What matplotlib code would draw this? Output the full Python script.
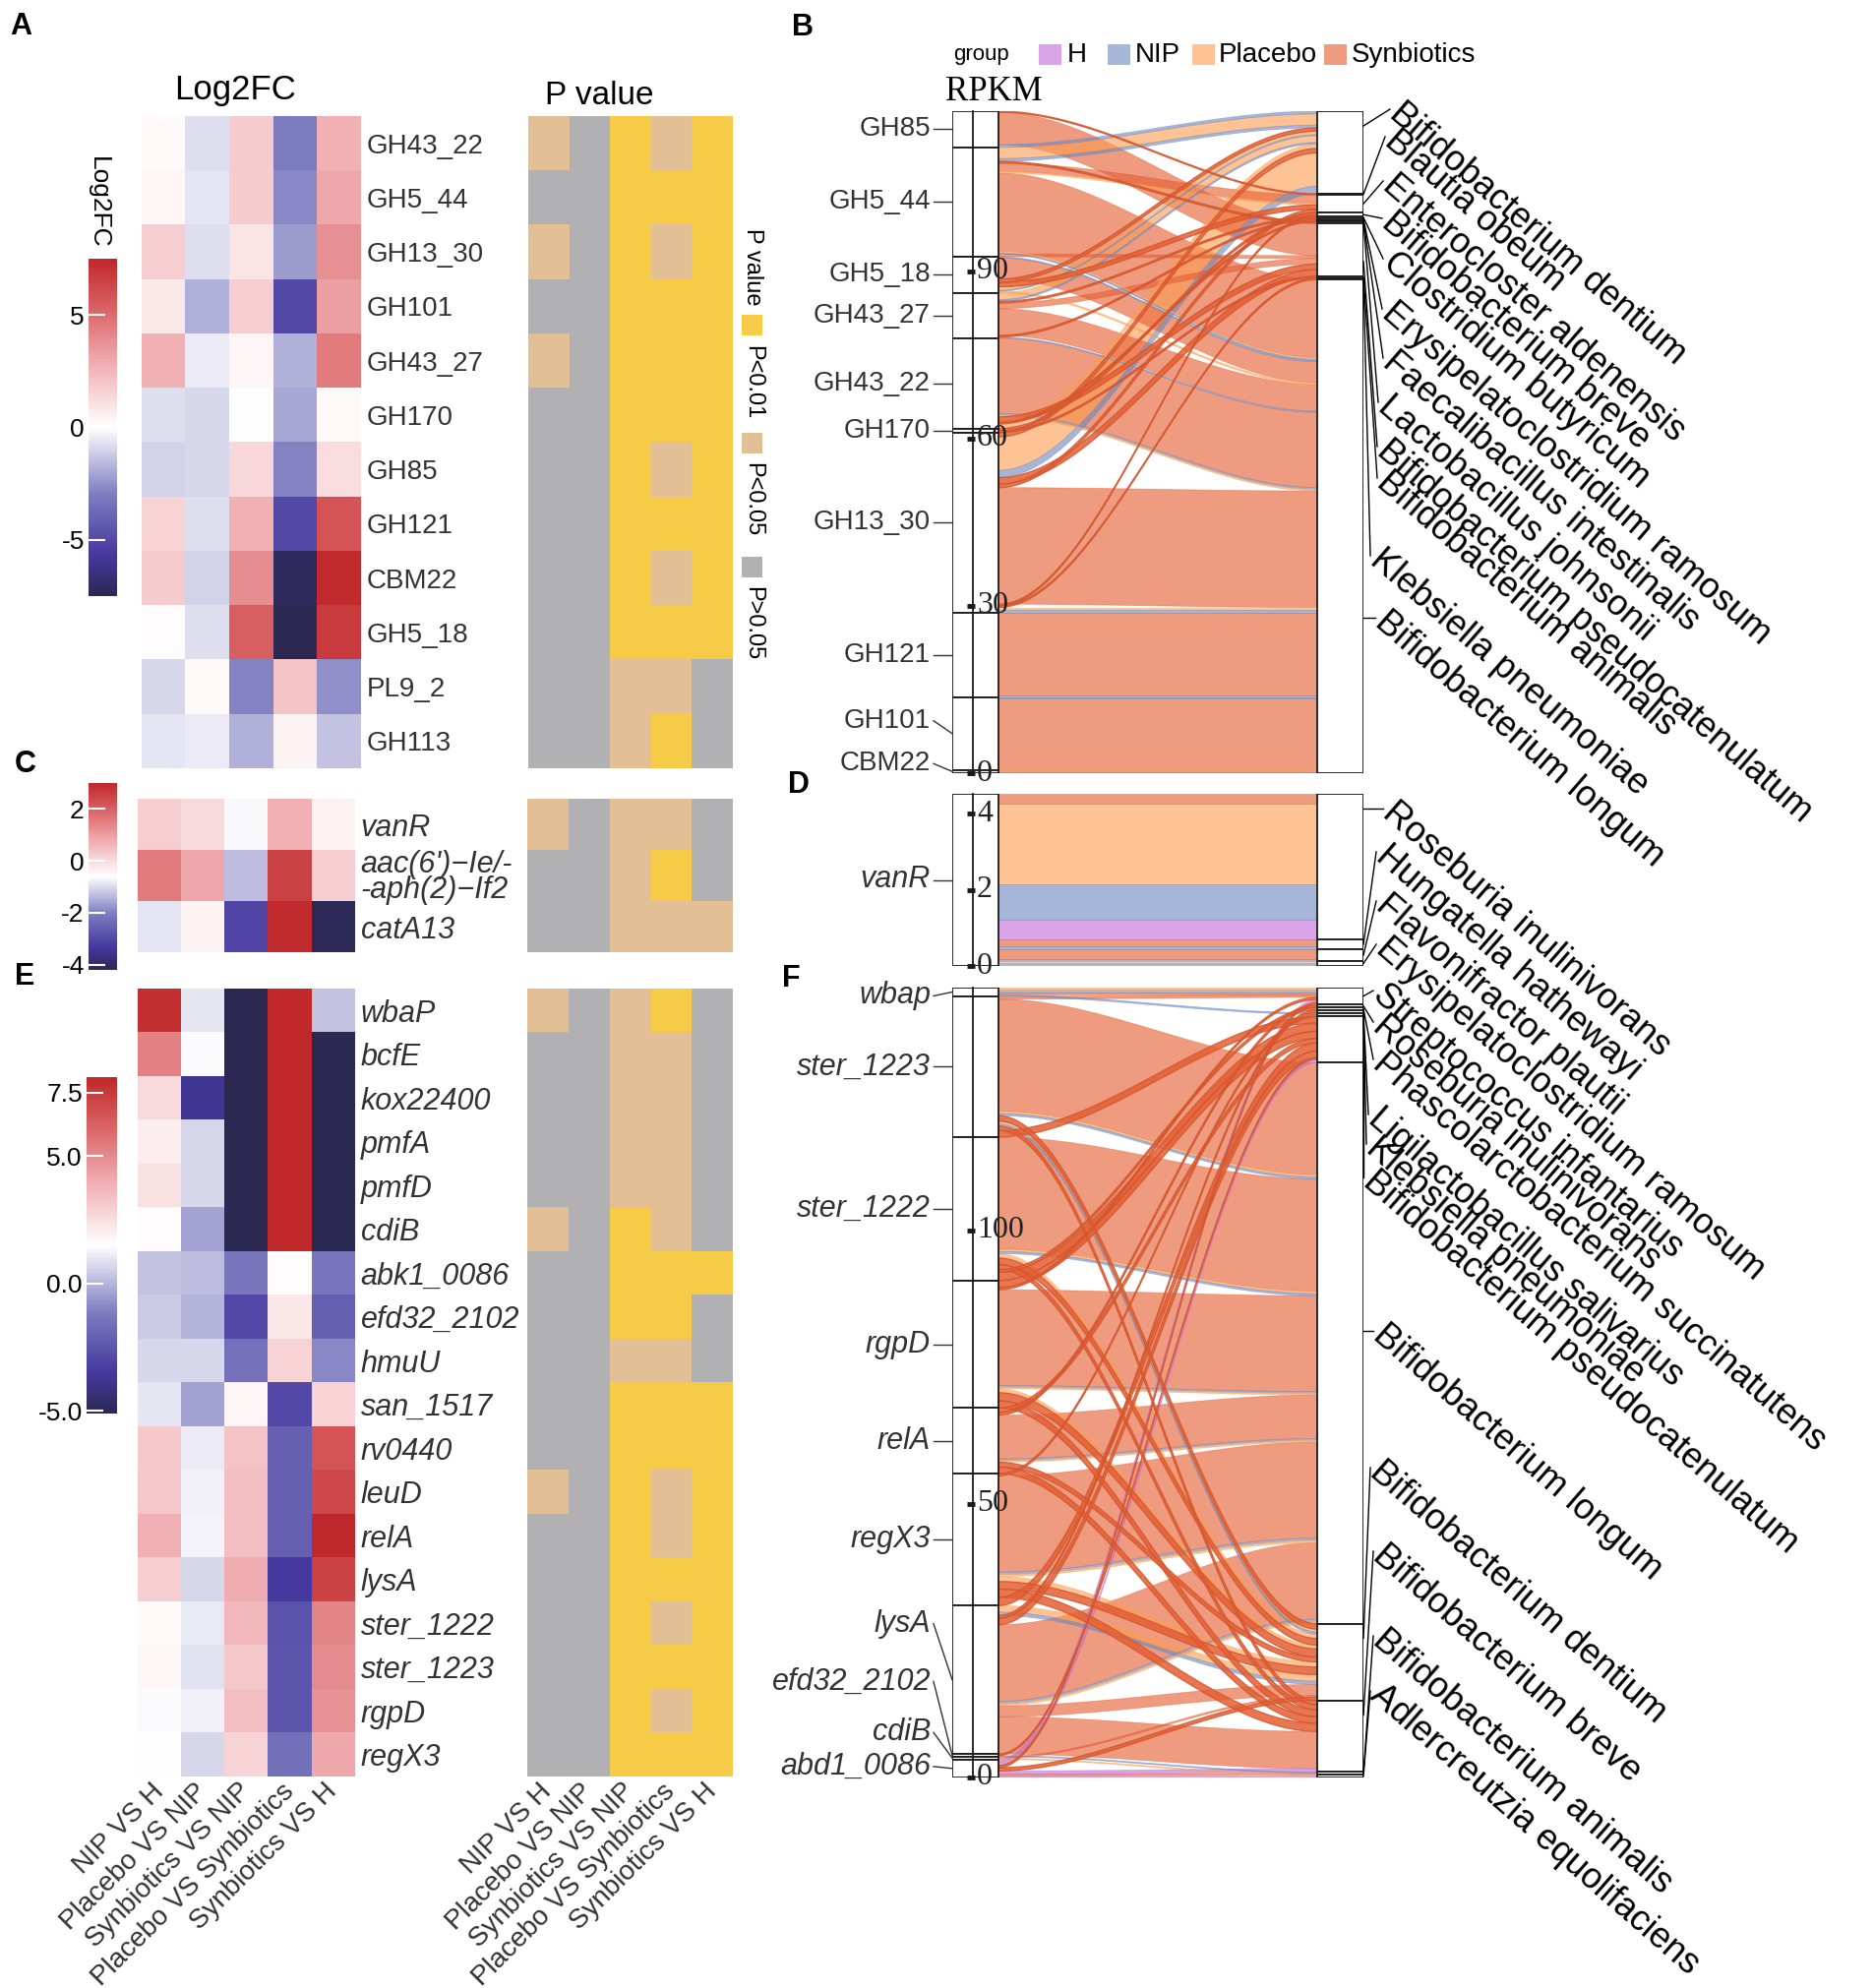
import numpy as np
import matplotlib
matplotlib.use('Agg')
import matplotlib.pyplot as plt
import matplotlib.cm as cm
from matplotlib.colors import LinearSegmentedColormap, ListedColormap, Normalize, to_rgb
from matplotlib.patches import Rectangle, Polygon
from matplotlib.lines import Line2D

plt.rcParams['font.family'] = ['Liberation Sans', 'DejaVu Sans']
plt.rcParams['axes.unicode_minus'] = False

# ---------------------------------------------------------------- data
comparisons = ['NIP VS H', 'Placebo VS NIP', 'Synbiotics VS NIP',
               'Placebo VS Synbiotics', 'Synbiotics VS H']
p_levels = ['P<0.01', 'P<0.05', 'P>0.05']          # codes 0, 1, 2

cazy_genes = ['GH43_22', 'GH5_44', 'GH13_30', 'GH101', 'GH43_27', 'GH170',
              'GH85', 'GH121', 'CBM22', 'GH5_18', 'PL9_2', 'GH113']
cazy_log2fc = [[0.15, -0.75, 1.8, -3.0, 2.7],
               [0.3, -0.6, 1.8, -2.7, 3.0],
               [1.65, -0.75, 0.9, -2.25, 3.75],
               [0.75, -1.8, 1.65, -5.0, 3.3],
               [2.7, -0.45, 0.3, -1.8, 4.5],
               [-0.75, -0.9, 0.0, -2.0, 0.2],
               [-1.05, -0.9, 1.35, -2.85, 1.2],
               [1.5, -0.75, 2.7, -5.0, 5.85],
               [1.8, -1.05, 3.9, -7.2, 7.35],
               [0.1, -0.75, 5.4, -7.5, 6.75],
               [-0.9, 0.15, -2.85, 2.1, -2.55],
               [-0.6, -0.45, -1.8, 0.45, -1.35]]
cazy_p = [[1, 2, 0, 1, 0], [2, 2, 0, 0, 0], [1, 2, 0, 1, 0], [2, 2, 0, 0, 0],
          [1, 2, 0, 0, 0], [2, 2, 0, 0, 0], [2, 2, 0, 1, 0], [2, 2, 0, 0, 0],
          [2, 2, 0, 1, 0], [2, 2, 0, 0, 0], [2, 2, 1, 1, 2], [2, 2, 1, 0, 2]]

arg_genes = ['vanR', "aac(6')\u2212Ie/-\n-aph(2)\u2212If2", 'catA13']
arg_log2fc = [[0.2, 0.0, -0.67, 0.7, -0.38],
              [1.56, 0.84, -1.32, 2.5, 0.19],
              [-0.9, -0.38, -3.05, 2.93, -4.13]]
arg_p = [[1, 2, 1, 1, 2], [2, 2, 1, 0, 2], [2, 2, 1, 1, 1]]

vf_genes = ['wbaP', 'bcfE', 'kox22400', 'pmfA', 'pmfD', 'cdiB', 'abk1_0086',
            'efd32_2102', 'hmuU', 'san_1517', 'rv0440', 'leuD', 'relA', 'lysA',
            'ster_1222', 'ster_1223', 'rgpD', 'regX3']
vf_log2fc = [[7.8, 1.0, -5.1, 8.1, 0.3],
             [5.3, 1.4, -5.1, 8.1, -5.1],
             [2.6, -3.8, -5.1, 8.1, -5.1],
             [2.0, 0.7, -5.1, 8.1, -5.1],
             [2.4, 0.7, -5.1, 8.1, -5.1],
             [1.6, -0.35, -5.1, 8.1, -5.1],
             [0.3, 0.2, -1.3, 1.6, -1.3],
             [0.45, 0.0, -2.9, 2.2, -2.1],
             [0.7, 0.7, -1.5, 2.8, -0.9],
             [1.0, -0.4, 1.8, -2.9, 2.8],
             [3.1, 1.1, 3.35, -2.1, 6.65],
             [3.2, 1.2, 3.5, -2.1, 7.0],
             [3.9, 1.25, 3.5, -2.1, 8.0],
             [2.95, 0.7, 4.0, -3.5, 7.2],
             [1.65, 1.05, 3.7, -2.6, 5.2],
             [1.75, 0.9, 3.2, -2.5, 5.0],
             [1.4, 1.2, 3.5, -2.5, 4.8],
             [1.5, 0.7, 2.8, -1.55, 4.1]]
vf_p = [[1, 2, 1, 0, 2], [2, 2, 1, 1, 2], [2, 2, 1, 1, 2], [2, 2, 1, 1, 2],
        [2, 2, 1, 1, 2], [1, 2, 0, 1, 2], [2, 2, 0, 0, 0], [2, 2, 0, 0, 2],
        [2, 2, 1, 1, 2], [2, 2, 0, 0, 0], [2, 2, 0, 0, 0], [1, 2, 0, 1, 0],
        [2, 2, 0, 1, 0], [2, 2, 0, 0, 0], [2, 2, 0, 1, 0], [2, 2, 0, 0, 0],
        [2, 2, 0, 1, 0], [2, 2, 0, 0, 0]]

groups = ['H', 'NIP', 'Placebo', 'Synbiotics']

# Panel B: CAZy gene -> species flows (gene, species, group, RPKM)
B_genes = ['GH85', 'GH5_44', 'GH5_18', 'GH43_27', 'GH43_22', 'GH170',
           'GH13_30', 'GH121', 'GH101', 'CBM22']
B_species = ['Bifidobacterium dentium', 'Blautia obeum', 'Enterocloster aldenensis',
             'Bifidobacterium breve', 'Clostridium butyricum',
             'Erysipelatoclostridium ramosum', 'Faecalibacillus intestinalis',
             'Lactobacillus johnsonii', 'Bifidobacterium pseudocatenulatum',
             'Bifidobacterium animalis', 'Klebsiella pneumoniae',
             'Bifidobacterium longum']
B_flows = [
    ('GH85', 'Blautia obeum', 'Synbiotics', 0.2),
    ('GH85', 'Bifidobacterium pseudocatenulatum', 'Synbiotics', 5.8),
    ('GH85', 'Bifidobacterium dentium', 'NIP', 0.5),
    ('GH5_44', 'Bifidobacterium dentium', 'Placebo', 2.0),
    ('GH5_44', 'Bifidobacterium dentium', 'NIP', 0.5),
    ('GH5_44', 'Lactobacillus johnsonii', 'Synbiotics', 0.3),
    ('GH5_44', 'Enterocloster aldenensis', 'Synbiotics', 1.5),
    ('GH5_44', 'Enterocloster aldenensis', 'Placebo', 0.3),
    ('GH5_44', 'Bifidobacterium longum', 'Synbiotics', 14.0),
    ('GH5_44', 'Bifidobacterium longum', 'Placebo', 0.3),
    ('GH5_44', 'Bifidobacterium longum', 'NIP', 0.2),
    ('GH5_44', 'Bifidobacterium pseudocatenulatum', 'Synbiotics', 0.5),
    ('GH5_18', 'Bifidobacterium longum', 'NIP', 0.2),
    ('GH5_18', 'Bifidobacterium longum', 'Synbiotics', 3.8),
    ('GH5_18', 'Bifidobacterium dentium', 'Synbiotics', 0.6),
    ('GH5_18', 'Enterocloster aldenensis', 'Synbiotics', 0.8),
    ('GH5_18', 'Bifidobacterium dentium', 'Placebo', 0.6),
    ('GH5_18', 'Bifidobacterium dentium', 'NIP', 0.2),
    ('GH5_18', 'Bifidobacterium longum', 'Placebo', 0.3),
    ('GH43_27', 'Bifidobacterium dentium', 'Placebo', 1.2),
    ('GH43_27', 'Bifidobacterium dentium', 'NIP', 0.3),
    ('GH43_27', 'Clostridium butyricum', 'Synbiotics', 0.3),
    ('GH43_27', 'Bifidobacterium pseudocatenulatum', 'Synbiotics', 1.0),
    ('GH43_27', 'Bifidobacterium longum', 'Synbiotics', 4.8),
    ('GH43_27', 'Erysipelatoclostridium ramosum', 'Synbiotics', 0.3),
    ('GH43_27', 'Bifidobacterium longum', 'NIP', 0.2),
    ('GH43_22', 'Bifidobacterium longum', 'Synbiotics', 13.5),
    ('GH43_22', 'Bifidobacterium longum', 'NIP', 0.3),
    ('GH43_22', 'Bifidobacterium longum', 'Placebo', 0.3),
    ('GH43_22', 'Bifidobacterium pseudocatenulatum', 'Synbiotics', 1.0),
    ('GH43_22', 'Faecalibacillus intestinalis', 'Synbiotics', 0.3),
    ('GH43_22', 'Bifidobacterium dentium', 'Placebo', 0.8),
    ('GH170', 'Bifidobacterium breve', 'Synbiotics', 0.4),
    ('GH170', 'Bifidobacterium animalis', 'Synbiotics', 0.3),
    ('GH13_30', 'Bifidobacterium dentium', 'Synbiotics', 0.8),
    ('GH13_30', 'Bifidobacterium dentium', 'Placebo', 6.0),
    ('GH13_30', 'Bifidobacterium dentium', 'NIP', 1.3),
    ('GH13_30', 'Bifidobacterium pseudocatenulatum', 'Synbiotics', 1.2),
    ('GH13_30', 'Enterocloster aldenensis', 'Synbiotics', 0.6),
    ('GH13_30', 'Bifidobacterium longum', 'Synbiotics', 20.9),
    ('GH13_30', 'Bifidobacterium breve', 'Synbiotics', 0.3),
    ('GH13_30', 'Klebsiella pneumoniae', 'Synbiotics', 0.3),
    ('GH13_30', 'Bifidobacterium longum', 'Placebo', 0.5),
    ('GH13_30', 'Bifidobacterium longum', 'NIP', 0.5),
    ('GH121', 'Bifidobacterium longum', 'Synbiotics', 14.8),
    ('GH121', 'Bifidobacterium longum', 'NIP', 0.3),
    ('GH101', 'Bifidobacterium longum', 'NIP', 0.15),
    ('GH101', 'Bifidobacterium longum', 'Synbiotics', 12.7),
    ('GH101', 'Bifidobacterium longum', 'Placebo', 0.15),
    ('CBM22', 'Bifidobacterium longum', 'Synbiotics', 0.4),
    ('CBM22', 'Bifidobacterium longum', 'Placebo', 0.1),
    ('CBM22', 'Bifidobacterium longum', 'NIP', 0.1),
]

# Panel D: ARG vanR -> species
D_genes = ['vanR']
D_species = ['Roseburia inulinivorans', 'Hungatella hathewayi',
             'Flavonifractor plautii', 'Erysipelatoclostridium ramosum']
D_flows = [
    ('vanR', 'Roseburia inulinivorans', 'Synbiotics', 0.27),
    ('vanR', 'Roseburia inulinivorans', 'Placebo', 2.10),
    ('vanR', 'Roseburia inulinivorans', 'NIP', 0.95),
    ('vanR', 'Roseburia inulinivorans', 'H', 0.51),
    ('vanR', 'Hungatella hathewayi', 'Synbiotics', 0.19),
    ('vanR', 'Hungatella hathewayi', 'NIP', 0.07),
    ('vanR', 'Flavonifractor plautii', 'Synbiotics', 0.26),
    ('vanR', 'Flavonifractor plautii', 'NIP', 0.05),
    ('vanR', 'Erysipelatoclostridium ramosum', 'Placebo', 0.05),
    ('vanR', 'Erysipelatoclostridium ramosum', 'NIP', 0.08),
]

# Panel F: VF gene -> species
F_genes = ['wbap', 'ster_1223', 'ster_1222', 'rgpD', 'relA', 'regX3', 'lysA',
           'efd32_2102', 'cdiB', 'abd1_0086']
F_species = ['Streptococcus infantarius', 'Roseburia inulinivorans',
             'Phascolarctobacterium succinatutens', 'Ligilactobacillus salivarius',
             'Klebsiella pneumoniae', 'Bifidobacterium pseudocatenulatum',
             'Bifidobacterium longum', 'Bifidobacterium dentium',
             'Bifidobacterium breve', 'Bifidobacterium animalis',
             'Adlercreutzia equolifaciens']
F_flows = [
    ('wbap', 'Streptococcus infantarius', 'Placebo', 0.3),
    ('wbap', 'Streptococcus infantarius', 'NIP', 0.6),
    ('wbap', 'Streptococcus infantarius', 'Synbiotics', 0.4),
    ('wbap', 'Klebsiella pneumoniae', 'NIP', 0.3),
    ('ster_1223', 'Streptococcus infantarius', 'Synbiotics', 0.5),
    ('ster_1223', 'Bifidobacterium longum', 'Synbiotics', 20.5),
    ('ster_1223', 'Bifidobacterium longum', 'Placebo', 0.4),
    ('ster_1223', 'Bifidobacterium longum', 'NIP', 0.4),
    ('ster_1223', 'Bifidobacterium dentium', 'Synbiotics', 1.0),
    ('ster_1223', 'Bifidobacterium dentium', 'Placebo', 0.5),
    ('ster_1223', 'Bifidobacterium dentium', 'NIP', 0.4),
    ('ster_1223', 'Bifidobacterium breve', 'Synbiotics', 0.8),
    ('ster_1223', 'Bifidobacterium pseudocatenulatum', 'Synbiotics', 1.2),
    ('ster_1222', 'Bifidobacterium longum', 'Synbiotics', 20.5),
    ('ster_1222', 'Bifidobacterium longum', 'Placebo', 0.4),
    ('ster_1222', 'Bifidobacterium longum', 'NIP', 0.4),
    ('ster_1222', 'Bifidobacterium dentium', 'Placebo', 0.8),
    ('ster_1222', 'Bifidobacterium dentium', 'Synbiotics', 1.2),
    ('ster_1222', 'Bifidobacterium breve', 'Synbiotics', 0.9),
    ('ster_1222', 'Phascolarctobacterium succinatutens', 'Synbiotics', 0.5),
    ('ster_1222', 'Bifidobacterium pseudocatenulatum', 'Synbiotics', 1.5),
    ('rgpD', 'Bifidobacterium pseudocatenulatum', 'Synbiotics', 1.3),
    ('rgpD', 'Streptococcus infantarius', 'Synbiotics', 0.4),
    ('rgpD', 'Bifidobacterium longum', 'Synbiotics', 17.5),
    ('rgpD', 'Bifidobacterium longum', 'NIP', 0.3),
    ('rgpD', 'Bifidobacterium longum', 'Placebo', 0.3),
    ('rgpD', 'Bifidobacterium dentium', 'Placebo', 0.7),
    ('rgpD', 'Bifidobacterium dentium', 'Synbiotics', 1.5),
    ('rgpD', 'Bifidobacterium breve', 'Synbiotics', 1.3),
    ('relA', 'Bifidobacterium pseudocatenulatum', 'Synbiotics', 0.8),
    ('relA', 'Roseburia inulinivorans', 'Synbiotics', 0.5),
    ('relA', 'Bifidobacterium longum', 'Synbiotics', 8.0),
    ('relA', 'Bifidobacterium longum', 'NIP', 0.3),
    ('relA', 'Bifidobacterium longum', 'Placebo', 0.3),
    ('relA', 'Bifidobacterium dentium', 'Synbiotics', 0.9),
    ('relA', 'Bifidobacterium breve', 'Synbiotics', 1.2),
    ('regX3', 'Klebsiella pneumoniae', 'Synbiotics', 0.4),
    ('regX3', 'Bifidobacterium longum', 'Synbiotics', 17.6),
    ('regX3', 'Bifidobacterium longum', 'NIP', 0.4),
    ('regX3', 'Bifidobacterium longum', 'Placebo', 0.4),
    ('regX3', 'Bifidobacterium dentium', 'Placebo', 0.9),
    ('regX3', 'Bifidobacterium dentium', 'Synbiotics', 1.4),
    ('regX3', 'Bifidobacterium breve', 'Synbiotics', 1.5),
    ('regX3', 'Bifidobacterium pseudocatenulatum', 'Synbiotics', 1.5),
    ('lysA', 'Bifidobacterium dentium', 'Placebo', 1.2),
    ('lysA', 'Bifidobacterium dentium', 'NIP', 0.6),
    ('lysA', 'Ligilactobacillus salivarius', 'Synbiotics', 0.5),
    ('lysA', 'Bifidobacterium pseudocatenulatum', 'Synbiotics', 1.2),
    ('lysA', 'Bifidobacterium longum', 'Synbiotics', 14.0),
    ('lysA', 'Bifidobacterium longum', 'NIP', 0.4),
    ('lysA', 'Bifidobacterium longum', 'Placebo', 0.4),
    ('lysA', 'Bifidobacterium dentium', 'Synbiotics', 2.0),
    ('lysA', 'Bifidobacterium breve', 'Synbiotics', 6.8),
    ('efd32_2102', 'Bifidobacterium pseudocatenulatum', 'Synbiotics', 0.3),
    ('efd32_2102', 'Bifidobacterium animalis', 'NIP', 0.2),
    ('cdiB', 'Bifidobacterium dentium', 'Synbiotics', 0.3),
    ('cdiB', 'Adlercreutzia equolifaciens', 'Placebo', 0.2),
    ('abd1_0086', 'Streptococcus infantarius', 'H', 0.5),
    ('abd1_0086', 'Bifidobacterium pseudocatenulatum', 'H', 0.6),
    ('abd1_0086', 'Streptococcus infantarius', 'Synbiotics', 0.4),
    ('abd1_0086', 'Bifidobacterium dentium', 'Synbiotics', 0.6),
    ('abd1_0086', 'Bifidobacterium breve', 'H', 0.6),
    ('abd1_0086', 'Bifidobacterium animalis', 'Synbiotics', 0.3),
    ('abd1_0086', 'Adlercreutzia equolifaciens', 'H', 0.3),
]

B_ticks = [0, 30, 60, 90]
D_ticks = [0, 2, 4]
F_ticks = [0, 50, 100]

# ---------------------------------------------------------------- styles
W, H = 1904, 2021
fig = plt.figure(figsize=(W / 100, H / 100), dpi=100)

def fx(x):
    return x / W

def fy(y):
    return 1 - y / H

def add_ax(x0, y0, x1, y1):
    return fig.add_axes([x0 / W, 1 - y1 / H, (x1 - x0) / W, (y1 - y0) / H])

heat_cmap = LinearSegmentedColormap.from_list(
    'lfc', [(0.0, '#2B2852'), (0.12, '#45389E'), (0.3, '#7E7CC0'),
            (0.5, '#FFFFFF'), (0.7, '#EFA9AD'), (0.85, '#DA6467'),
            (1.0, '#C0282A')])
p_colors = ['#F5CB47', '#E3BF95', '#B1B0B2']
p_cmap = ListedColormap(p_colors)
grp_base = {'H': '#C06BD9', 'NIP': '#6E89C1', 'Placebo': '#FC9E52',
            'Synbiotics': '#E55E32'}
FLOW_ALPHA = 0.62
CROSS_ALPHA = 0.85
TXT = '#333333'


def pastel(c):
    r = np.array(to_rgb(c))
    return tuple(FLOW_ALPHA * r + (1 - FLOW_ALPHA) * 1.0)


def heatmap(box, values, norm, rows, italic, fs, xlabels):
    ax = add_ax(*box)
    ax.imshow(np.array(values), cmap=heat_cmap, norm=norm, aspect='auto',
              interpolation='nearest')
    ax.set_yticks(range(len(rows)))
    ax.set_yticklabels(rows, fontsize=fs, color=TXT,
                       style='italic' if italic else 'normal', linespacing=0.85)
    ax.yaxis.tick_right()
    ax.tick_params(axis='y', length=0, pad=4)
    if xlabels:
        ax.set_xticks(range(len(comparisons)))
        ax.set_xticklabels(comparisons, rotation=45, ha='right', va='center',
                           rotation_mode='anchor', fontsize=20, color=TXT)
        ax.tick_params(axis='x', length=0, pad=8)
    else:
        ax.set_xticks([])
    for s in ax.spines.values():
        s.set_visible(False)
    return ax


def pheat(box, values, xlabels):
    ax = add_ax(*box)
    ax.imshow(np.array(values), cmap=p_cmap, vmin=-0.5, vmax=2.5, aspect='auto',
              interpolation='nearest')
    ax.set_yticks([])
    if xlabels:
        ax.set_xticks(range(len(comparisons)))
        ax.set_xticklabels(comparisons, rotation=45, ha='right', va='center',
                           rotation_mode='anchor', fontsize=20, color=TXT)
        ax.tick_params(axis='x', length=0, pad=8)
    else:
        ax.set_xticks([])
    for s in ax.spines.values():
        s.set_visible(False)


def colorbar(box, norm, ticks, labels):
    cax = add_ax(*box)
    cb = fig.colorbar(cm.ScalarMappable(norm=norm, cmap=heat_cmap), cax=cax,
                      ticklocation='left')
    cb.outline.set_visible(False)
    cb.set_ticks(ticks)
    cb.set_ticklabels(labels)
    cax.tick_params(axis='y', direction='in', color='white', length=12,
                    width=1.5, labelsize=19, pad=3, labelcolor='black')


# ---------------------------------------------------------------- heatmaps
normA = Normalize(-7.5, 7.5)
normC = Normalize(-4.2, 3.0)
normE = Normalize(-5.1, 8.1)

heatmap((144, 118, 367, 781), cazy_log2fc, normA, cazy_genes, False, 20, False)
pheat((537, 118, 745, 781), cazy_p, False)
colorbar((90, 263, 119, 606), normA, [-5, 0, 5], ['-5', '0', '5'])
fig.text(fx(100), fy(206), 'Log2FC', rotation=-90, ha='center', va='center', fontsize=19)
fig.text(fx(239), fy(92), 'Log2FC', ha='center', va='center', fontsize=25)
fig.text(fx(609), fy(97), 'P value', ha='center', va='center', fontsize=24)

# P value legend
fig.text(fx(765), fy(271), 'P value', rotation=-90, ha='center', va='center', fontsize=17)
for lvl, (y0, ylab) in enumerate([(320, 389), (440, 508), (566, 634)]):
    fig.add_artist(Rectangle((fx(754), fy(y0 + 21)), 21 / W, 21 / H,
                             transform=fig.transFigure, facecolor=p_colors[lvl],
                             edgecolor='none'))
    fig.text(fx(765), fy(ylab), p_levels[lvl], rotation=-90, ha='center',
             va='center', fontsize=17)

heatmap((140, 812, 361, 968), arg_log2fc, normC, arg_genes, True, 22, False)
pheat((536, 812, 745, 968), arg_p, False)
colorbar((90, 796, 119, 986), normC, [-4, -2, 0, 2], ['-4', '-2', '0', '2'])

heatmap((140, 1005, 361, 1806), vf_log2fc, normE, vf_genes, True, 22, True)
pheat((536, 1005, 745, 1806), vf_p, True)
colorbar((88, 1095, 119, 1437), normE, [-5, 0, 5, 7.5], ['-5.0', '0.0', '5.0', '7.5'])

# ---------------------------------------------------------------- alluvial
XL0, XL1, XR0, XR1 = 968, 1015, 1339, 1386


def alluvial(top_px, bot_px, genes, species, flows, ticks, gene_dy, italic,
             gene_fs, sp_anchor):
    ax = add_ax(XL0, top_px, XR1, bot_px)
    T = float(sum(f[3] for f in flows))
    ax.set_xlim(XL0, XR1)
    ax.set_ylim(0, T)
    ax.axis('off')
    n = len(flows)
    left = [None] * n
    gspan = []
    y = T
    for g in genes:
        y0 = y
        for k, f in enumerate(flows):
            if f[0] == g:
                left[k] = (y, y - f[3])
                y -= f[3]
        gspan.append((y0, y))
    right = [None] * n
    sspan = []
    y = T
    for sp in species:
        y0 = y
        ks = sorted([k for k, f in enumerate(flows) if f[1] == sp],
                    key=lambda k: -left[k][0])
        for k in ks:
            right[k] = (y, y - flows[k][3])
            y -= flows[k][3]
        sspan.append((y0, y))
    t = np.linspace(0, 1, 90)
    s = t * t * (3 - 2 * t)
    xs = XL1 + (XR0 - XL1) * t
    for k in sorted(range(n), key=lambda k: -flows[k][3]):
        (lt, lb), (rt, rb) = left[k], right[k]
        yt = lt + (rt - lt) * s
        yb = lb + (rb - lb) * s
        pts = np.vstack([np.c_[xs, yt], np.c_[xs[::-1], yb[::-1]]])
        c = np.array(to_rgb(grp_base[flows[k][2]]))
        shift = abs((lt + lb) / 2 - (rt + rb) / 2)
        crossing = (flows[k][2] == 'Synbiotics' and flows[k][3] < 0.025 * T
                    and shift > 0.08 * T)
        if crossing:
            ax.add_patch(Polygon(pts, closed=True, facecolor=(*c, CROSS_ALPHA),
                                 edgecolor=(*(c * 0.92), 0.85), lw=0.9, zorder=3))
        else:
            ax.add_patch(Polygon(pts, closed=True, facecolor=(*c, FLOW_ALPHA),
                                 edgecolor=(*c, 0.45), lw=0.6, zorder=2))
    for a, b in gspan:
        ax.add_patch(Rectangle((XL0, b), XL1 - XL0, a - b, facecolor='white',
                               edgecolor='#1a1a1a', lw=1.3, zorder=4))
    for a, b in sspan:
        ax.add_patch(Rectangle((XR0, b), XR1 - XR0, a - b, facecolor='white',
                               edgecolor='#1a1a1a', lw=1.3, zorder=4))
    ax.plot([989, 989], [0, T], color='#1a1a1a', lw=1.3, zorder=5, clip_on=False)
    for tv in ticks:
        ax.plot([983, 991], [tv, tv], color='#1a1a1a', lw=3.5, zorder=6,
                solid_capstyle='butt', clip_on=False)
        ax.text(993, tv, str(tv), family='Liberation Serif', fontsize=23,
                ha='left', va='center', color='#222222', zorder=7, clip_on=False)

    def to_px(v):
        return top_px + (T - v) / T * (bot_px - top_px)

    for gi, g in enumerate(genes):
        a, b = gspan[gi]
        cy = to_px((a + b) / 2)
        ly = cy + gene_dy[gi]
        fig.text(fx(946), fy(ly), g, ha='right', va='center', fontsize=gene_fs,
                 color=TXT, style='italic' if italic else 'normal')
        fig.add_artist(Line2D([fx(949), fx(XL0)], [fy(ly), fy(cy)],
                              transform=fig.transFigure, color=TXT, lw=1.0))
    for si, sp in enumerate(species):
        a, b = sspan[si]
        ytop, ybot = to_px(a), to_px(b)
        inset = min(15.0, (ybot - ytop) / 2)
        axx, ayy = sp_anchor[si]
        ye = float(np.clip(ayy, ytop + inset, ybot - inset))
        fig.add_artist(Line2D([fx(axx - 4), fx(XR1)], [fy(ayy), fy(ye)],
                              transform=fig.transFigure, color='black', lw=1.0))
        fig.text(fx(axx), fy(ayy), sp, rotation=-41, rotation_mode='anchor',
                 ha='left', va='center', fontsize=26, color='black')


B_label_anchor = [(1417, 111), (1412, 139), (1410, 184), (1409, 222), (1410, 263),
                  (1409, 314), (1410, 364), (1405, 409), (1404, 454), (1404, 486),
                  (1397, 565), (1402, 628)]
D_label_anchor = [(1410, 822), (1403, 866), (1403, 916), (1403, 960)]
F_label_anchor = [(1400, 1007), (1400, 1039), (1400, 1077), (1395, 1133),
                  (1393, 1163), (1390, 1197), (1400, 1353), (1397, 1492),
                  (1400, 1577), (1400, 1663), (1397, 1719)]

alluvial(113, 786, B_genes, B_species, B_flows, B_ticks,
         [0, 0, 0, 0, 0, 0, 0, 0, -13, -8], False, 20, B_label_anchor)
alluvial(807, 982, D_genes, D_species, D_flows, D_ticks, [0], True, 22,
         D_label_anchor)
alluvial(1004, 1807, F_genes, F_species, F_flows, F_ticks,
         [4, 0, 0, 0, 0, 0, -57, -75, -26, -2], True, 22, F_label_anchor)

fig.text(fx(1010), fy(94), 'RPKM', family='Liberation Serif', fontsize=25,
         ha='center', va='center')

# legend for groups
fig.text(fx(969), fy(55), 'group', fontsize=16, ha='left', va='center')
leg_x = [(1056, 1085), (1126, 1154), (1212, 1239), (1346, 1374)]
for g, (sx, tx) in zip(groups, leg_x):
    fig.add_artist(Rectangle((fx(sx), fy(66)), 23 / W, 21 / H,
                             transform=fig.transFigure,
                             facecolor=pastel(grp_base[g]), edgecolor='none'))
    fig.text(fx(tx), fy(56), g, fontsize=20, ha='left', va='center')

# panel letters
for lab, (x, y) in zip('ABCDEF', [(10, 27), (805, 28), (15, 777), (801, 798),
                                   (15, 993), (795, 995)]):
    fig.text(fx(x), fy(y), lab, fontsize=22, fontweight='bold', ha='left', va='center')

fig.savefig('out.png', dpi=100)
